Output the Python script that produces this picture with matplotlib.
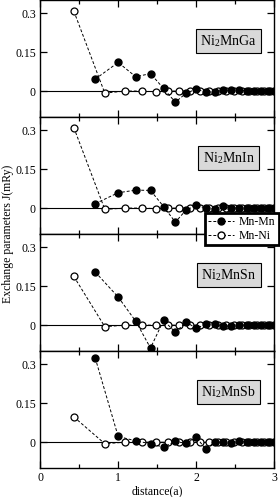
import matplotlib
matplotlib.use('Agg')
import matplotlib.pyplot as plt
from matplotlib.ticker import MultipleLocator
from matplotlib.lines import Line2D

plt.rcParams['font.family'] = ['Liberation Serif', 'DejaVu Serif']
plt.rcParams['mathtext.fontset'] = 'stix'

# neighbour shell distances (in units of a)
dist_mnmn = [0.707, 1.0, 1.225, 1.414, 1.581, 1.732, 1.871, 2.0, 2.121, 2.236,
             2.345, 2.449, 2.55, 2.646, 2.739, 2.828, 2.915, 3.0]
dist_mnni = [0.433, 0.829, 1.090, 1.299, 1.479, 1.639, 1.785, 1.920, 2.046,
             2.165, 2.278, 2.385, 2.487, 2.586, 2.681, 2.773, 2.861, 2.947]

compounds = ['Ni$_{\\mathregular{2}}$MnGa', 'Ni$_{\\mathregular{2}}$MnIn',
             'Ni$_{\\mathregular{2}}$MnSn', 'Ni$_{\\mathregular{2}}$MnSb']

# exchange parameters J (mRy)
j_mnmn_ga = [0.046, 0.11, 0.055, 0.067, 0.01, -0.043, -0.008, 0.007, -0.004, -0.003,
             0.003, 0.003, 0.004, 0.0, 0.001, 0.0, 0.002, 0.001]
j_mnni_ga = [0.307, -0.008, 0.0, 0.0, -0.003, 0.0, 0.0, 0.0, 0.0,
             0.0, 0.0, 0.0, 0.0, 0.0, 0.0, 0.0, 0.0, 0.0]
j_mnmn_in = [0.017, 0.059, 0.069, 0.068, 0.006, -0.054, -0.007, 0.01, 0.0, -0.004,
             0.008, 0.0, 0.001, 0.002, 0.0, 0.002, 0.0, 0.001]
j_mnni_in = [0.309, -0.005, 0.0, 0.0, -0.002, 0.0, 0.0, 0.0, 0.0,
             0.0, 0.0, 0.0, 0.0, 0.0, 0.0, 0.0, 0.0, 0.0]
j_mnmn_sn = [0.204, 0.108, 0.015, -0.088, 0.018, -0.027, 0.011, -0.012, 0.003, 0.005,
             -0.005, -0.002, 0.0, 0.0, 0.0, 0.0, 0.0, 0.0]
j_mnni_sn = [0.187, -0.006, 0.0, 0.0, 0.0, 0.0, 0.0, 0.0, 0.0,
             0.0, 0.0, 0.0, 0.0, 0.0, 0.0, 0.0, 0.0, 0.0]
j_mnmn_sb = [0.323, 0.022, 0.005, -0.006, -0.019, 0.003, -0.005, 0.019, -0.027, 0.0,
             0.0, -0.002, 0.003, 0.0, 0.0, 0.0, 0.0, 0.0]
j_mnni_sb = [0.097, -0.006, 0.0, 0.0, 0.0, 0.0, 0.0, 0.0, 0.0,
             0.0, 0.0, 0.0, 0.0, 0.0, 0.0, 0.0, 0.0, 0.0]

mnmn_all = [j_mnmn_ga, j_mnmn_in, j_mnmn_sn, j_mnmn_sb]
mnni_all = [j_mnni_ga, j_mnni_in, j_mnni_sn, j_mnni_sb]

fig, axes = plt.subplots(4, 1, figsize=(2.8, 4.97), dpi=100, sharex=True)
fig.subplots_adjust(left=0.143, right=0.98, top=1.0, bottom=0.058, hspace=0)

for ax, name, jmm, jmn in zip(axes, compounds, mnmn_all, mnni_all):
    ax.axhline(0, color='black', lw=0.8, zorder=1)
    ax.plot(dist_mnni, jmn, ls=(0, (3, 2)), color='black', lw=0.7,
            marker='o', ms=5, mfc='white', mec='black', mew=0.9, zorder=3)
    ax.plot(dist_mnmn, jmm, ls=(0, (3, 2)), color='black', lw=0.7,
            marker='o', ms=5, mfc='black', mec='black', zorder=4)
    ax.set_xlim(0, 3)
    ax.set_ylim(-0.1, 0.35)
    ax.set_yticks([0, 0.15, 0.3])
    ax.set_yticklabels(['0', '0.15', '0.3'])
    ax.xaxis.set_major_locator(MultipleLocator(1))
    ax.xaxis.set_minor_locator(MultipleLocator(0.5))
    ax.tick_params(which='both', direction='in', top=True, right=True,
                   labelsize=8.5, pad=3)
    ax.tick_params(which='major', length=5, width=0.9)
    ax.tick_params(which='minor', length=3, width=0.9)
    for sp in ax.spines.values():
        sp.set_linewidth(1.0)
    ax.text(0.805, 0.65, name, transform=ax.transAxes, ha='center', va='center',
            fontsize=10, zorder=5,
            bbox=dict(boxstyle='square,pad=0.3', fc='#d9d9d9', ec='black', lw=0.8))

axes[-1].set_xlabel('distance(a)', fontsize=8.5, labelpad=1)
fig.text(0.03, 0.53, 'Exchange parameters J(mRy)', rotation=90,
         ha='center', va='center', fontsize=8.5)

handles = [
    Line2D([], [], ls=(0, (3, 2)), color='black', lw=0.7, marker='o', ms=5,
           mfc='black', mec='black', label='Mn-Mn'),
    Line2D([], [], ls=(0, (3, 2)), color='black', lw=0.7, marker='o', ms=5,
           mfc='white', mec='black', label='Mn-Ni'),
]
leg = fig.legend(handles=handles, loc='upper right', bbox_to_anchor=(0.995, 0.572),
                 fontsize=8.5, frameon=True, fancybox=False, handlelength=2.2,
                 borderpad=0.25, labelspacing=0.2, handletextpad=0.4,
                 borderaxespad=0)
leg.get_frame().set_edgecolor('black')
leg.get_frame().set_linewidth(2)
leg.get_frame().set_alpha(1)

fig.savefig('out.png', dpi=100)
